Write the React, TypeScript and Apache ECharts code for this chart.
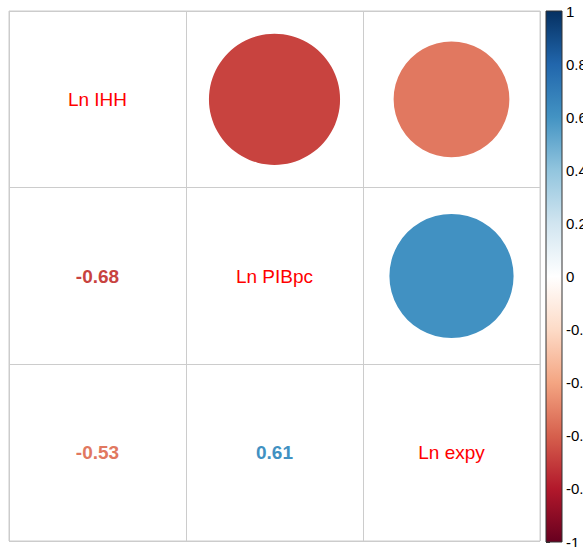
import React, { useEffect, useRef } from "react";
import * as echarts from "echarts";

const variables = ["Ln IHH", "Ln PIBpc", "Ln expy"];
// correlation matrix (row-major)
const corrMatrix = [
  [1, -0.68, -0.53],
  [-0.68, 1, 0.61],
  [-0.53, 0.61, 1],
];
const paletteRdBu = [
  "#67001F", "#B2182B", "#D6604D", "#F4A582", "#FDDBC7", "#FFFFFF",
  "#D1E5F0", "#92C5DE", "#4393C3", "#2166AC", "#053061",
];
const colorbarTicks = [-1, -0.8, -0.6, -0.4, -0.2, 0, 0.2, 0.4, 0.6, 0.8, 1];

export default function App() {
  const ref = useRef<HTMLDivElement>(null);
  useEffect(() => {
    if (!ref.current) return;
    const chart = echarts.init(ref.current, null, { renderer: "svg" });
    // kind: 0 circle (upper), 1 number (lower), 2 label (diag)
    const cells: number[][] = [];
    for (let i = 0; i < variables.length; i++) {
      for (let j = 0; j < variables.length; j++) {
        const kind = i === j ? 2 : j > i ? 0 : 1;
        cells.push([j, i, corrMatrix[i][j], kind]);
      }
    }
    const font = '"Liberation Sans", Arial, sans-serif';
    const stops = paletteRdBu
      .slice()
      .reverse()
      .map((c, k) => ({ offset: k / (paletteRdBu.length - 1), color: c }));

    chart.setOption({
      animation: false,
      backgroundColor: "#ffffff",
      grid: [
        {
          left: 9, top: 11, width: 531, height: 530, show: true,
          borderColor: "#cccccc", borderWidth: 1, outerBoundsMode: "none", containLabel: false,
        },
        { left: 546, top: 11, width: 16, height: 531, outerBoundsMode: "none", containLabel: false },
      ],
      xAxis: [
        {
          type: "category",
          gridIndex: 0,
          data: variables,
          axisLine: { show: false },
          axisTick: { show: false },
          axisLabel: { show: false },
          splitLine: { show: true, lineStyle: { color: "#cccccc", width: 1 } },
        },
        { type: "value", gridIndex: 1, min: 0, max: 1, show: false },
      ],
      yAxis: [
        {
          type: "category",
          gridIndex: 0,
          data: variables,
          inverse: true,
          axisLine: { show: false },
          axisTick: { show: false },
          axisLabel: { show: false },
          splitLine: { show: true, lineStyle: { color: "#cccccc", width: 1 } },
        },
        {
          type: "value",
          gridIndex: 1,
          min: colorbarTicks[0],
          max: colorbarTicks[colorbarTicks.length - 1],
          interval: 0.2,
          position: "right",
          axisLine: { show: false },
          axisTick: { show: true, length: 4, lineStyle: { color: "#333333" } },
          splitLine: { show: false },
          axisLabel: {
            margin: 4,
            fontSize: 15,
            fontFamily: font,
            color: "#000000",
            formatter: (v: number) => String(Math.round(v * 10) / 10),
          },
        },
      ],
      visualMap: {
        show: false,
        type: "continuous",
        min: -1,
        max: 1,
        dimension: 2,
        seriesIndex: 0,
        inRange: { color: paletteRdBu },
      },
      series: [
        {
          type: "custom",
          xAxisIndex: 0,
          yAxisIndex: 0,
          data: cells,
          renderItem: (params: any, api: any) => {
            const x = api.value(0);
            const y = api.value(1);
            const r = api.value(2);
            const kind = api.value(3);
            const c = api.coord([x, y]);
            const sz = api.size([1, 1]);
            const color = api.visual("color");
            if (kind === 0) {
              const rad = 0.45 * Math.min(sz[0], sz[1]) * Math.sqrt(Math.abs(r));
              return { type: "circle", shape: { cx: c[0], cy: c[1], r: rad }, style: { fill: color } };
            }
            if (kind === 1) {
              return {
                type: "text",
                style: {
                  text: r.toFixed(2),
                  x: c[0],
                  y: c[1],
                  align: "center",
                  verticalAlign: "middle",
                  fill: color,
                  fontSize: 19,
                  fontWeight: "bold",
                  fontFamily: font,
                },
              };
            }
            return {
              type: "text",
              style: {
                text: variables[x],
                x: c[0],
                y: c[1],
                align: "center",
                verticalAlign: "middle",
                fill: "#FF0000",
                fontSize: 19,
                fontFamily: font,
              },
            };
          },
        },
        {
          type: "custom",
          xAxisIndex: 1,
          yAxisIndex: 1,
          data: [[0, 1]],
          renderItem: (params: any, api: any) => {
            const p1 = api.coord([0, 1]);
            const p2 = api.coord([1, -1]);
            return {
              type: "rect",
              shape: { x: p1[0], y: p1[1], width: p2[0] - p1[0], height: p2[1] - p1[1] },
              style: {
                fill: new echarts.graphic.LinearGradient(0, 0, 0, 1, stops),
                stroke: "#333333",
                lineWidth: 1,
              },
            };
          },
        },
      ],
    });
    return () => chart.dispose();
  }, []);
  return (
    <div
      ref={ref}
      style={{ position: "fixed", left: 0, top: 0, width: 583, height: 547, background: "#fff" }}
    />
  );
}
